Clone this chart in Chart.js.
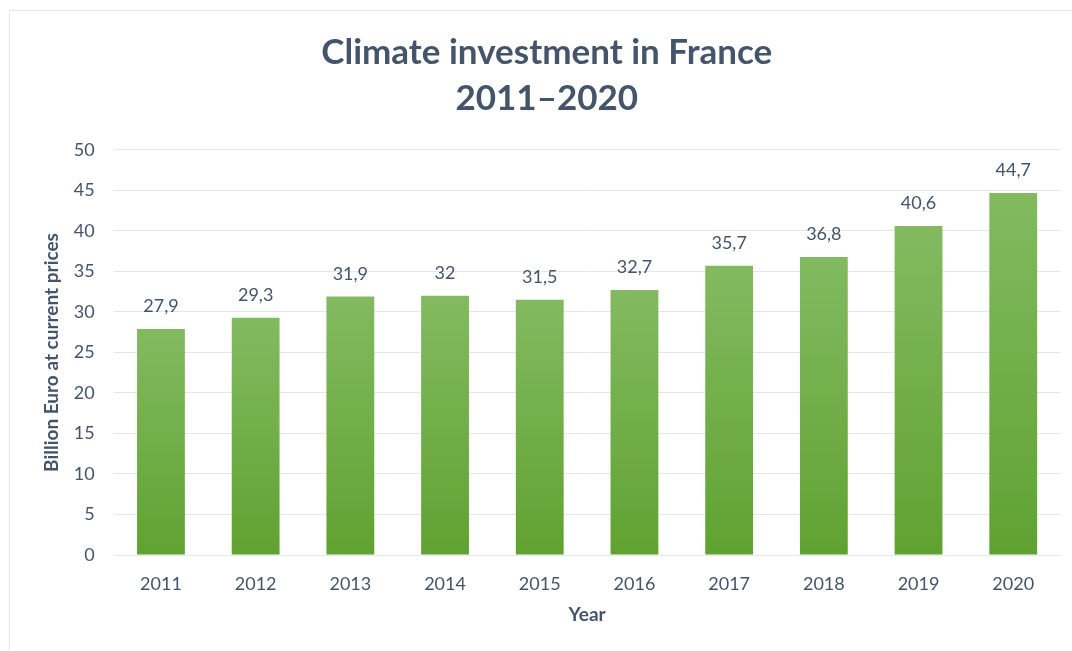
<!DOCTYPE html>
<html>
<head>
<meta charset="utf-8">
<script src="https://cdn.jsdelivr.net/npm/chart.js@4"></script>
<style>
  html, body { margin: 0; padding: 0; background: #ffffff; overflow: hidden; }
  #frame { position: absolute; left: 9px; top: 10px; width: 1100px; height: 700px;
           border-top: 1px solid #E4E7EB; border-left: 1px solid #E4E7EB; box-sizing: border-box; }
  #wrap { position: absolute; left: 0; top: 0; width: 1072px; height: 651px; }
</style>
</head>
<body>
<div id="frame"></div>
<div id="wrap"><canvas id="c" width="1072" height="651"></canvas></div>
<script>
const titleLines = ["Climate investment in France", "2011–2020"];
const years = ["2011", "2012", "2013", "2014", "2015", "2016", "2017", "2018", "2019", "2020"];
const investment = [27.9, 29.3, 31.9, 32, 31.5, 32.7, 35.7, 36.8, 40.6, 44.7];
const yAxisTitle = "Billion Euro at current prices";
const xAxisTitle = "Year";

const TEXT = "#44546A";
const FONT = "Lato, 'Open Sans', sans-serif";

const valueLabels = {
  id: "valueLabels",
  afterDatasetsDraw(chart) {
    const ctx = chart.ctx;
    const meta = chart.getDatasetMeta(0);
    ctx.save();
    ctx.fillStyle = TEXT;
    ctx.font = "18px " + FONT;
    ctx.textAlign = "center";
    ctx.textBaseline = "alphabetic";
    meta.data.forEach((bar, i) => {
      const txt = String(chart.data.datasets[0].data[i]).replace(".", ",");
      ctx.fillText(txt, bar.x, bar.y - 17);
    });
    ctx.restore();
  }
};

new Chart(document.getElementById("c"), {
  type: "bar",
  data: {
    labels: years,
    datasets: [{
      data: investment,
      backgroundColor(context) {
        const chart = context.chart;
        const area = chart.chartArea;
        if (!area || context.type !== "data") return "#72AE4A";
        const ys = chart.scales.y;
        const top = ys.getPixelForValue(context.raw);
        const bottom = ys.getPixelForValue(0);
        const g = chart.ctx.createLinearGradient(0, top, 0, bottom);
        g.addColorStop(0, "#83BA61");
        g.addColorStop(1, "#60A231");
        return g;
      },
      borderWidth: 0,
      barPercentage: 0.505,
      categoryPercentage: 1.0
    }]
  },
  options: {
    responsive: false,
    animation: false,
    layout: { padding: { left: 33, right: 11.4, top: 0, bottom: 0 } },
    plugins: {
      legend: { display: false },
      tooltip: { enabled: false },
      title: {
        display: true,
        text: titleLines,
        color: TEXT,
        font: { family: FONT, size: 35, weight: "bold", lineHeight: 1.314 },
        padding: { top: 30, bottom: 28 }
      }
    },
    scales: {
      x: {
        grid: { display: false, drawTicks: false },
        border: { display: false },
        ticks: { color: TEXT, font: { family: FONT, size: 18 }, padding: 18 },
        title: {
          display: true, text: xAxisTitle, color: TEXT,
          font: { family: FONT, size: 19, weight: "bold" },
          padding: { top: 0, bottom: 25 }
        },
        afterFit(scale) { scale.height = 96; }
      },
      y: {
        min: 0, max: 50,
        grid: { color: "#E3E6EB", lineWidth: 1, drawTicks: false },
        border: { display: false },
        ticks: { stepSize: 5, color: TEXT, font: { family: FONT, size: 18 }, padding: 19 },
        title: {
          display: true, text: yAxisTitle, color: TEXT,
          font: { family: FONT, size: 19, weight: "bold" },
          padding: { top: 7.5, bottom: 0 }
        },
        afterFit(scale) { scale.width = 80.6; }
      }
    }
  },
  plugins: [valueLabels]
});
</script>
</body>
</html>
